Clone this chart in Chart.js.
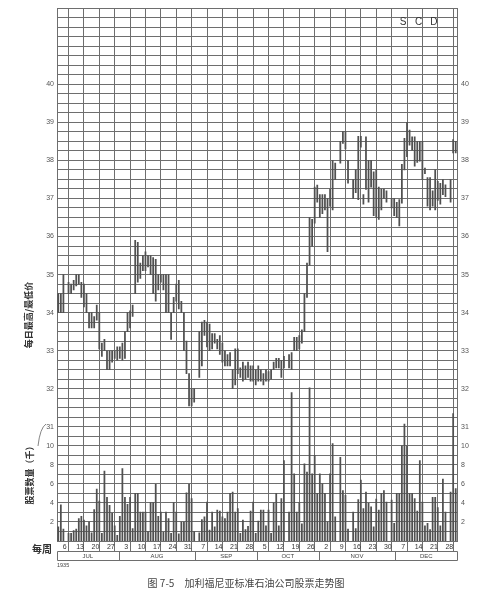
<!DOCTYPE html>
<html><head><meta charset="utf-8">
<script src="https://cdn.jsdelivr.net/npm/chart.js@4.4.0/dist/chart.umd.min.js"></script>
<style>html,body{margin:0;padding:0;background:#fff;}canvas{display:block;}</style>
</head><body>
<canvas id="c" width="490" height="600"></canvas>
<script>
// ========== Data (6 trading slots per week, Mon..Sat; null = market closed) ==========
const weekLabels=['6','13','20','27','3','10','17','24','31','7','14','21','28','5','12','19','26','2','9','16','23','30','7','14','21','28'];
const monthNames=['JUL','AUG','SEP','OCT','NOV','DEC'];
const monthStartWeek=[0,4,9,13,17,22,26];
const priceTickValues=[32,33,34,35,36,37,38,39,40];
const volTickPositions=[28.5,29,29.5,30,30.5,31];
const volTickLabels=['2','4','6','8','10','31'];
const markLetters=['S','C','D'];

const dailyHigh=[
 34.5,34.5,35.0,null,34.8,34.75,
 34.85,35.0,35.0,34.8,34.75,34.5,
 34.0,34.0,33.9,34.2,34.0,33.2,
 33.3,33.0,33.0,33.0,33.0,33.1,
 33.1,33.2,33.5,34.0,34.05,34.2,
 35.9,35.85,35.3,35.5,35.6,35.5,
 35.5,35.45,35.4,35.0,35.0,35.0,
 35.0,35.0,34.0,34.4,34.75,34.85,
 34.3,34.0,33.25,32.4,32.0,32.0,
 null,33.5,33.75,33.8,33.75,33.7,
 33.45,33.45,33.3,33.4,33.2,33.0,
 32.9,32.95,32.5,33.05,33.05,32.55,
 32.7,32.6,32.7,32.6,32.6,32.5,
 32.6,32.5,32.4,32.5,32.45,32.5,
 32.7,32.8,32.8,32.75,32.85,null,
 32.9,32.95,33.35,33.35,33.4,33.55,
 34.5,35.3,36.5,36.45,37.3,37.35,
 37.1,37.1,37.1,37.0,37.25,38.0,
 37.93,null,38.5,38.76,38.76,38.0,
 null,37.5,37.75,38.63,38.63,37.1,
 38.62,38.0,38.0,37.7,37.75,37.3,
 37.25,37.25,37.2,null,37.0,37.0,
 36.9,36.97,37.9,38.58,39.0,38.8,
 38.62,38.62,38.5,38.5,38.5,37.8,
 37.55,37.55,37.2,37.75,37.45,37.4,
 37.5,37.36,null,37.5,38.55,38.5
];
const dailyLow=[
 34.0,34.0,34.0,null,34.5,34.5,
 34.6,34.7,34.75,34.4,34.15,34.0,
 33.6,33.6,33.6,33.8,33.05,32.85,
 33.0,32.5,32.5,32.7,32.8,32.75,
 32.8,32.75,32.8,33.5,33.6,33.9,
 34.5,34.8,34.9,35.1,35.1,35.2,
 35.0,34.5,34.3,34.6,34.8,34.6,
 34.0,34.0,33.3,34.0,34.3,34.1,
 34.0,33.0,32.4,31.55,31.55,31.65,
 null,32.3,32.6,33.4,33.1,33.0,
 33.05,33.2,33.05,32.9,32.7,32.6,
 32.6,32.6,32.0,32.1,32.4,32.3,
 32.2,32.25,32.3,32.2,32.2,32.1,
 32.2,32.2,32.1,32.2,32.2,32.25,
 32.5,32.55,32.55,32.3,32.55,null,
 32.55,32.5,33.0,33.0,33.05,33.2,
 33.5,34.4,35.25,35.75,36.35,36.9,
 36.5,36.6,36.7,35.6,36.8,36.7,
 37.5,null,37.93,38.45,38.3,37.4,
 null,37.0,37.15,36.97,38.35,36.85,
 37.24,36.9,37.3,36.55,36.5,36.45,
 36.7,37.0,36.9,null,36.75,36.55,
 36.5,36.28,36.88,37.75,38.1,38.4,
 38.27,37.85,37.95,37.98,37.5,37.65,
 36.8,36.7,36.8,36.7,36.95,36.85,
 37.1,37.05,null,36.9,38.2,38.2
];
// volume in thousands of shares
const dailyVolume=[
 1.5,3.8,1.25,null,0.8,0.8,
 1.1,1.25,2.35,2.6,2.2,1.6,
 2.0,0.85,3.3,5.45,4.2,0.8,
 7.35,4.6,3.75,2.9,1.6,0.6,
 2.6,7.6,4.6,3.85,4.6,1.3,
 5.0,5.0,3.05,3.05,3.05,1.0,
 4.05,4.05,5.95,2.6,3.05,0.9,
 3.05,2.35,0.8,4.05,3.05,0.75,
 2.0,2.0,5.05,5.95,4.45,1.0,
 null,0.85,2.25,2.55,4.1,1.15,
 3.05,1.5,3.25,3.15,2.55,2.35,
 3.05,5.0,5.15,3.05,3.4,0.8,
 2.2,1.2,1.55,3.15,4.1,0.8,
 2.1,3.25,3.25,1.6,3.25,0.8,
 4.0,5.0,1.6,4.45,8.45,null,
 3.05,15.6,7.05,3.05,4.05,1.8,
 8.1,7.25,16.1,7.05,9.0,5.0,
 7.05,6.0,5.0,2.0,7.05,10.25,
 2.55,null,8.8,5.3,4.8,1.25,
 null,3.05,1.3,4.35,6.4,3.4,
 5.15,3.95,3.6,1.5,4.4,3.25,
 5.0,5.3,4.1,null,4.3,1.85,
 5.0,5.0,10.0,12.3,10.0,5.0,
 5.0,4.45,3.15,8.45,4.1,1.6,
 1.85,1.2,4.6,4.6,3.5,1.6,
 6.5,3.05,null,5.15,13.4,5.5
];

// ========== Build datasets ==========
const priceData=[],volData=[];
dailyHigh.forEach((h,i)=>{
    if(h!=null) priceData.push({x:i+0.5,y:[dailyLow[i],h]});
    if(dailyVolume[i]!=null) volData.push({x:i+0.5,y:dailyVolume[i]});
});

const GRID='#6e6e6e', TXT='#555', BAR='#505050';
const tickFont={family:'"Liberation Sans", Arial, sans-serif',size:7};

function yLabel(v){
    if(priceTickValues.indexOf(v)>=0) return String(v);
    const k=volTickPositions.indexOf(v);
    return k>=0?volTickLabels[k]:'';
}

// ========== Extra drawing (month row, titles, caption) ==========
const extras={id:'extras',afterDraw(chart){
    const ctx=chart.ctx,xs=chart.scales.x,ys=chart.scales.y,a=chart.chartArea;
    const L=Math.round(a.left)+0.5,R=Math.round(a.right)+0.5;
    const r1=Math.round(a.bottom)+10.5,r2=Math.round(a.bottom)+19.5;
    ctx.save();
    ctx.strokeStyle=GRID;ctx.lineWidth=1;
    ctx.beginPath();
    ctx.moveTo(L,r1);ctx.lineTo(R,r1);
    ctx.moveTo(L,r2);ctx.lineTo(R,r2);
    monthStartWeek.forEach(w=>{
        const px=Math.round(xs.getPixelForValue(w*6))+0.5;
        ctx.moveTo(px,r1);ctx.lineTo(px,r2);
    });
    ctx.stroke();
    ctx.fillStyle='#444';ctx.font='6px "Liberation Sans", Arial, sans-serif';
    ctx.textAlign='center';ctx.textBaseline='middle';
    monthNames.forEach((m,i)=>{
        const cx=(xs.getPixelForValue(monthStartWeek[i]*6)+xs.getPixelForValue(monthStartWeek[i+1]*6))/2;
        ctx.fillText(m,cx,(r1+r2)/2);
    });
    ctx.textAlign='left';ctx.font='5.5px "Liberation Sans", Arial, sans-serif';
    ctx.fillText('1935',a.left,r2+5);

    // S C D
    ctx.fillStyle='#333';ctx.textAlign='center';
    ctx.font='10px "Liberation Sans", Arial, sans-serif';
    markLetters.forEach((s,i)=>ctx.fillText(s,xs.getPixelForValue((22+i)*6+3),ys.getPixelForValue(41.62)));

    // axis titles
    ctx.fillStyle='#333';
    ctx.font='bold 9px "Noto Sans CJK SC", sans-serif';
    ctx.save();ctx.translate(29,315);ctx.rotate(-Math.PI/2);ctx.fillText('每日最高/最低价',0,0);ctx.restore();
    ctx.save();ctx.translate(30,473);ctx.rotate(-Math.PI/2);ctx.fillText('股票数量（千）',0,0);ctx.restore();
    ctx.font='bold 10px "Noto Sans CJK SC", sans-serif';
    ctx.fillText('每周',42,549);

    // bracket by the volume labels
    ctx.strokeStyle='#666';ctx.lineWidth=0.8;
    ctx.beginPath();ctx.moveTo(38,446);ctx.quadraticCurveTo(40,428,46,424);ctx.stroke();

    // caption
    ctx.fillStyle='#444';ctx.font='10px "Noto Sans CJK SC", sans-serif';
    ctx.fillText('图 7-5　加利福尼亚标准石油公司股票走势图',246,583);
    ctx.restore();
}};

// ========== Chart ==========
new Chart(document.getElementById('c'),{
    type:'bar',
    data:{datasets:[
        {data:priceData,yAxisID:'y',backgroundColor:BAR,barThickness:1.1,grouped:false},
        {data:volData,yAxisID:'yv',backgroundColor:BAR,barThickness:1.1,grouped:false}
    ]},
    options:{
        responsive:false,animation:false,
        layout:{padding:{top:4,left:0,right:0,bottom:0}},
        plugins:{legend:{display:false},tooltip:{enabled:false}},
        scales:{
            x:{type:'linear',min:0,max:156,offset:false,
                afterFit:s=>{s.height=59;},
                grid:{color:c=>c.tick&&c.tick.value%6===0?GRID:'rgba(0,0,0,0)',tickLength:10,lineWidth:1},
                border:{color:GRID},
                ticks:{stepSize:3,autoSkip:false,maxRotation:0,minRotation:0,padding:-8,color:'#333',font:tickFont,
                    callback:v=>v%6===3?weekLabels[(v-3)/6]:''}},
            y:{position:'left',min:28,max:42,
                afterFit:s=>{s.width=57;},
                grid:{color:GRID,drawTicks:false,lineWidth:1},
                border:{color:GRID},
                ticks:{stepSize:0.25,autoSkip:false,padding:3,color:TXT,font:tickFont,callback:yLabel}},
            y2:{position:'right',min:28,max:42,
                afterFit:s=>{s.width=33;},
                grid:{drawOnChartArea:false,drawTicks:false},
                border:{color:GRID},
                ticks:{stepSize:0.25,autoSkip:false,padding:4,color:TXT,font:tickFont,callback:yLabel}},
            yv:{display:false,min:0,max:56}
        }
    },
    plugins:[extras]
});
</script></body></html>
